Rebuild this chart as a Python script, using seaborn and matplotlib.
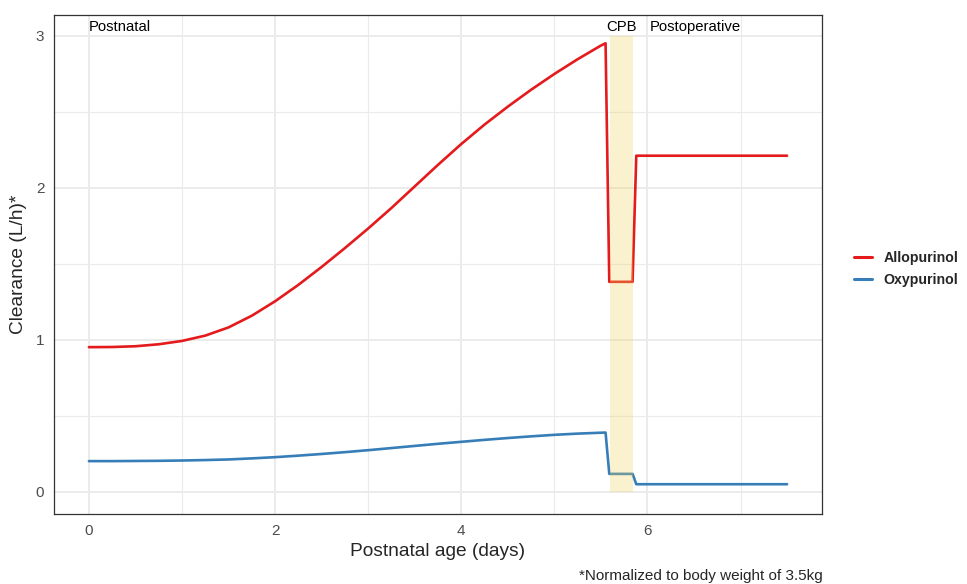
"""
Allopurinol / oxypurinol clearance over postnatal age, with CPB window.
"""

import numpy as np
import pandas as pd
import matplotlib
matplotlib.use("Agg")
import matplotlib.pyplot as plt
import seaborn as sns

sns.set_style("white")
plt.rcParams["font.family"] = ["Liberation Sans", "DejaVu Sans"]

# postnatal age (days)
age = [0.0, 0.25, 0.5, 0.75, 1.0, 1.25, 1.5, 1.75, 2.0, 2.25, 2.5, 2.75,
       3.0, 3.25, 3.5, 3.75, 4.0, 4.25, 4.5, 4.75, 5.0, 5.25, 5.5, 5.55,
       5.59, 5.84, 5.88, 7.5]

allopurinol = [0.950, 0.951, 0.956, 0.969, 0.991, 1.026, 1.080, 1.157,
               1.252, 1.360, 1.478, 1.602, 1.731, 1.866, 2.008, 2.150,
               2.287, 2.415, 2.533, 2.644, 2.748, 2.845, 2.935, 2.950,
               1.380, 1.380, 2.210, 2.210]

oxypurinol = [0.200, 0.200, 0.201, 0.202, 0.204, 0.207, 0.211, 0.218,
              0.226, 0.236, 0.247, 0.259, 0.272, 0.286, 0.300, 0.314,
              0.327, 0.340, 0.352, 0.363, 0.373, 0.381, 0.387, 0.388,
              0.116, 0.116, 0.048, 0.048]

cpb_window = [5.6, 5.84]
cpb_height = [0.0, 3.0]

phase_labels = ["Postnatal", "CPB", "Postoperative"]
phase_x = [0.0, 5.72, 6.03]

COLORS = {"Allopurinol": "#E41A1C", "Oxypurinol": "#377EB8"}


def build_frame():
    df = pd.DataFrame({"age": age, "Allopurinol": allopurinol,
                       "Oxypurinol": oxypurinol})
    return df.melt(id_vars="age", var_name="compound", value_name="clearance")


def main():
    df = build_frame()

    fig = plt.figure(figsize=(9.67, 5.84), dpi=100)
    ax = fig.add_axes([54 / 967, 1 - 514 / 584, (822 - 54) / 967, (514 - 15) / 584])

    sns.lineplot(data=df, x="age", y="clearance", hue="compound",
                 palette=COLORS, estimator=None, sort=False,
                 linewidth=1.9, ax=ax, zorder=3)

    # CPB shaded window (drawn on top, translucent)
    ax.fill_between(cpb_window, cpb_height[0], cpb_height[1],
                    color="#EFD55E", alpha=0.3, linewidth=0, zorder=4)

    for lab, x in zip(phase_labels, phase_x):
        ha = "center" if lab == "CPB" else "left"
        ax.text(x, 3.06, lab, ha=ha, va="center", fontsize=10.7, color="black")

    ax.set_xlim(-0.375, 7.875)
    ax.set_ylim(-0.148, 3.136)
    ax.set_xticks([0, 2, 4, 6])
    ax.set_yticks([0, 1, 2, 3])
    ax.set_xticks([1, 3, 5, 7], minor=True)
    ax.set_yticks([0.5, 1.5, 2.5], minor=True)
    ax.grid(which="major", color="#EBEBEB", linewidth=1.4, zorder=0)
    ax.grid(which="minor", color="#EBEBEB", linewidth=0.8, zorder=0)
    ax.set_axisbelow(True)

    ax.tick_params(which="major", length=4, width=1, color="#333333",
                   labelsize=11, labelcolor="#4D4D4D", pad=3)
    ax.tick_params(which="minor", length=0)
    for s in ax.spines.values():
        s.set_color("#333333")
        s.set_linewidth(0.9)

    ax.set_xlabel("Postnatal age (days)", fontsize=13.8, labelpad=4)
    ax.set_ylabel("Clearance (L/h)*", fontsize=13.8, labelpad=6)

    handles, labels = ax.get_legend_handles_labels()
    leg = ax.legend(handles, labels, loc="center left", frameon=False,
                    bbox_to_anchor=(1.025, 0.491), handlelength=1.3,
                    handletextpad=0.8, labelspacing=0.62, borderpad=0.4,
                    prop={"size": 10.2, "weight": "bold"})
    for h in leg.get_lines():
        h.set_linewidth(2.2)

    fig.text(823 / 967, 1 - 576 / 584, "*Normalized to body weight of 3.5kg",
             ha="right", va="center", fontsize=11)

    fig.savefig("out.png", dpi=100)


if __name__ == "__main__":
    main()
